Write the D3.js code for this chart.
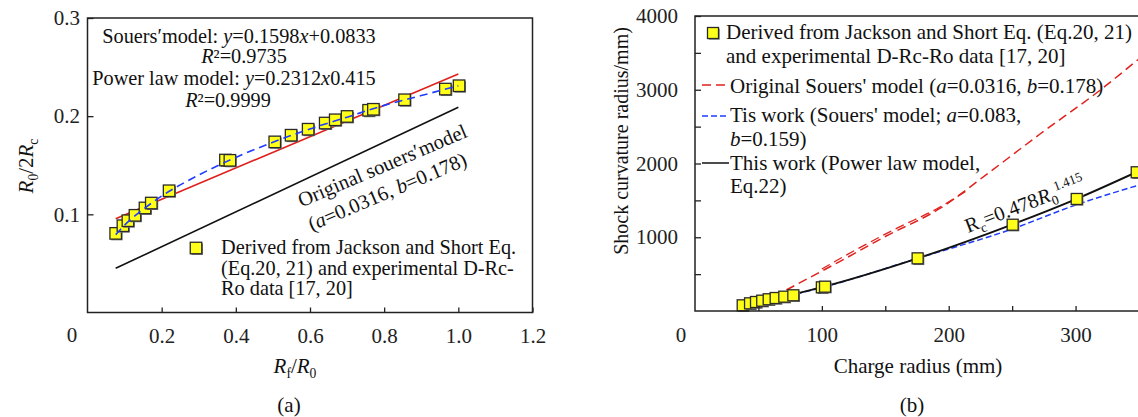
<!DOCTYPE html>
<html>
<head>
<meta charset="utf-8">
<script src="https://cdn.jsdelivr.net/npm/d3@7"></script>
<style>
body { margin:0; background:#fff; }
svg { font-family:"Liberation Serif","Times New Roman",serif; }
</style>
</head>
<body>
<svg id="chart"></svg>
<script>
//////////////////////////////////////////////////////////////
// (a) data: Rf/R0 against R0/2Rc
var ratioPts = [0.076,0.0955,0.109,0.128,0.155,0.172,0.22,0.372,0.384,0.505,
                0.549,0.595,0.641,0.668,0.70,0.758,0.771,0.855,0.965,1.002];
var valuePts = [0.0806,0.0884,0.0935,0.099,0.1065,0.1115,0.124,0.1553,0.155,0.1738,
                0.1806,0.1867,0.193,0.1963,0.1997,0.206,0.207,0.2167,0.2276,0.231];

// power law fit (blue dashed)
var powerX = [0.076,0.1,0.15,0.2,0.3,0.4,0.5,0.6,0.7,0.8,0.9,1.0];
var powerY = [0.0793,0.089,0.105,0.1186,0.140,0.158,0.1734,0.187,0.199,0.211,0.221,0.231];

// Souers' linear fit (red) and original Souers' model (black)
var souersX = [0.076,1.0];
var souersY = [0.0955,0.243];
var originalX = [0.076,1.0];
var originalY = [0.045,0.209];

var ratioTicks = [0.2,0.4,0.6,0.8,1.0,1.2];
var valueTicks = [0.1,0.2,0.3];

//////////////////////////////////////////////////////////////
// (b) data: charge radius against shock curvature radius
var radiusPts = [37.6,43.4,48.1,53.0,58.1,63.6,70.4,77.5,100,102.5,175.5,250.4,300.9,348.2];
var curvPts   = [77,104,122,140,159,176,194,213,321,330,714,1170,1519,1881];

var origSouersX = [72,90,114,150,193,232,272,319,350];
var origSouersY = [285,450,670,1010,1390,1880,2400,2990,3420];
var origSouers2X = [100,130,160,190,215];
var origSouers2Y = [570,860,1130,1380,1640];

var thisSouersX = [38,50,75,100,175,250,300,350];
var thisSouersY = [78,118,212,318,712,1112,1437,1708];

var thisPowerX = [37.6,50,75,100,175.5,250.4,300.9,350];
var thisPowerY = [79,121,215,323,714,1176,1522,1900];

var radiusTicks = [50,100,150,200,250,300,350];
var curvTicks = [500,1000,1500,2000,2500,3000,3500,4000];

//////////////////////////////////////////////////////////////
var zip = function(xs, ys) {
    return xs.map(function(x, i) { return [x, ys[i]]; });
}

// text with italic / sub / sup pieces: parts = [[text, style], ...]
var richText = function(textSel, parts) {
    var shift = 0;
    parts.forEach(function(p) {
        var ts = textSel.append("tspan").text(p[0]);
        var st = p[1] || "";
        if (st.indexOf("i") >= 0) ts.attr("font-style", "italic");
        var want = st.indexOf("sub") >= 0 ? 5 : (st.indexOf("sup") >= 0 ? -8 : 0);
        if (want !== shift) { ts.attr("dy", want - shift); shift = want; }
        if (want !== 0) ts.attr("font-size", "0.65em");
    });
    return textSel;
}

var square = function(g, cx, cy, size) {
    g.append("rect")
        .attr("x", cx - size / 2 + 1.2)
        .attr("y", cy - size / 2 + 1.2)
        .attr("width", size).attr("height", size)
        .attr("fill", "#777");
    g.append("rect")
        .attr("x", cx - size / 2)
        .attr("y", cy - size / 2)
        .attr("width", size).attr("height", size)
        .attr("fill", "#ffff1a")
        .attr("stroke", "#2a2a2a")
        .attr("stroke-width", 1.3);
}

var svg = d3.select("#chart")
    .attr("width", 1138)
    .attr("height", 417);

svg.append("rect").attr("width", 1138).attr("height", 417).attr("fill", "#fff");

//////////////////////////////////////////////////////////////
// panel (a)
var drawLeft = function() {
    var xScale = d3.scaleLinear().domain([0, 1.2]).range([87.5, 532.5]);
    var yScale = d3.scaleLinear().domain([0, 0.3]).range([312.5, 18]);
    var g = svg.append("g");

    var line = d3.line()
        .x(function(d) { return xScale(d[0]); })
        .y(function(d) { return yScale(d[1]); });

    g.append("path")
        .attr("d", line(zip(originalX, originalY)))
        .attr("fill", "none").attr("stroke", "#111").attr("stroke-width", 1.6);
    g.append("path")
        .attr("d", line(zip(souersX, souersY)))
        .attr("fill", "none").attr("stroke", "#e0201c").attr("stroke-width", 1.6);

    zip(ratioPts, valuePts).forEach(function(d) {
        square(g, xScale(d[0]), yScale(d[1]), 11.5);
    });

    g.append("path")
        .attr("d", line.curve(d3.curveMonotoneX)(zip(powerX, powerY)))
        .attr("fill", "none").attr("stroke", "#1f3cff")
        .attr("stroke-width", 1.6).attr("stroke-dasharray", "8,5");

    // axes
    var xAxis = d3.axisBottom(xScale).tickValues(ratioTicks)
        .tickSize(-5).tickPadding(16).tickFormat(d3.format(".1f"));
    var yAxis = d3.axisLeft(yScale).tickValues(valueTicks)
        .tickSize(-6).tickPadding(7.5).tickFormat(d3.format(".1f"));

    var ax = g.append("g").attr("transform", "translate(0,312.5)").call(xAxis);
    var ay = g.append("g").attr("transform", "translate(87.5,0)").call(yAxis);
    [ax, ay].forEach(function(a) {
        a.select(".domain").remove();
        a.selectAll("line").attr("stroke", "#222").attr("stroke-width", 1.3);
        a.selectAll("text").attr("font-family", "Liberation Serif")
            .attr("font-size", 21).attr("fill", "#222");
    });

    g.append("rect")
        .attr("x", 87.5).attr("y", 18)
        .attr("width", 445).attr("height", 294.5)
        .attr("fill", "none").attr("stroke", "#222").attr("stroke-width", 1.5);

    g.append("text").attr("x", 72).attr("y", 342)
        .attr("text-anchor", "middle").attr("font-size", 21).attr("fill", "#222").text("0");

    // fit annotations
    var notes = [
        {x:239, y:43, parts:[["Souers′model: "],["y","i"],["=0.1598"],["x","i"],["+0.0833"]]},
        {x:244, y:63, parts:[["R","i"],["²=0.9735"]]},
        {x:234, y:85, parts:[["Power law model: "],["y","i"],["=0.2312"],["x","i"],["0.415"]]},
        {x:228, y:107, parts:[["R","i"],["²=0.9999"]]}
    ];
    notes.forEach(function(n) {
        richText(g.append("text").attr("x", n.x).attr("y", n.y)
            .attr("text-anchor", "middle").attr("font-size", 20.3).attr("fill", "#111"), n.parts);
    });

    richText(g.append("text")
        .attr("transform", "translate(385,172) rotate(-23)")
        .attr("text-anchor", "middle").attr("font-size", 20.5).attr("fill", "#111"),
        [["Original souers′model"]]);
    richText(g.append("text")
        .attr("transform", "translate(390,198) rotate(-23)")
        .attr("text-anchor", "middle").attr("font-size", 20.5).attr("fill", "#111"),
        [["("],["a","i"],["=0.0316, "],["b","i"],["=0.178)"]]);

    // legend
    square(g, 196, 248, 11.5);
    var legendLines = ["Derived from Jackson and Short Eq.",
                       "(Eq.20, 21) and experimental D-Rc-",
                       "Ro data [17, 20]"];
    legendLines.forEach(function(t, i) {
        g.append("text").attr("x", 221).attr("y", 254 + i * 20.5)
            .attr("font-size", 20.3).attr("fill", "#111").text(t);
    });

    // axis titles
    richText(g.append("text").attr("x", 295).attr("y", 373)
        .attr("text-anchor", "middle").attr("font-size", 21).attr("fill", "#111"),
        [["R","i"],["f","sub"],["/"],["R","i"],["0","sub"]]);
    richText(g.append("text")
        .attr("transform", "translate(33,166) rotate(-90)")
        .attr("text-anchor", "middle").attr("font-size", 21).attr("fill", "#111"),
        [["R","i"],["0","sub"],["/2"],["R","i"],["c","sub"]]);
    g.append("text").attr("x", 289).attr("y", 412)
        .attr("text-anchor", "middle").attr("font-size", 21).attr("fill", "#111").text("(a)");
}

//////////////////////////////////////////////////////////////
// panel (b)
var drawRight = function() {
    var xScale = d3.scaleLinear().domain([0, 350]).range([695, 1139]);
    var yScale = d3.scaleLinear().domain([0, 4000]).range([311, 16]);
    var g = svg.append("g");

    var line = d3.line()
        .x(function(d) { return xScale(d[0]); })
        .y(function(d) { return yScale(d[1]); })
        .curve(d3.curveMonotoneX);

    g.append("path")
        .attr("d", line(zip(origSouersX, origSouersY)))
        .attr("fill", "none").attr("stroke", "#e0201c")
        .attr("stroke-width", 1.5).attr("stroke-dasharray", "9,5");
    g.append("path")
        .attr("d", line(zip(origSouers2X, origSouers2Y)))
        .attr("fill", "none").attr("stroke", "#e0201c")
        .attr("stroke-width", 1.3).attr("stroke-dasharray", "9,5");
    g.append("path")
        .attr("d", line(zip(thisSouersX, thisSouersY)))
        .attr("fill", "none").attr("stroke", "#1f3cff")
        .attr("stroke-width", 1.5).attr("stroke-dasharray", "6,3");
    g.append("path")
        .attr("d", line(zip(thisPowerX, thisPowerY)))
        .attr("fill", "none").attr("stroke", "#111").attr("stroke-width", 1.9);

    zip(radiusPts, curvPts).forEach(function(d) {
        square(g, xScale(d[0]), yScale(d[1]), 11);
    });

    var xAxis = d3.axisBottom(xScale).tickValues(radiusTicks).tickSize(-5).tickPadding(16)
        .tickFormat(function(d) { return d % 100 === 0 ? d : ""; });
    var yAxis = d3.axisLeft(yScale).tickValues(curvTicks).tickSize(-6).tickPadding(17)
        .tickFormat(function(d) { return d % 1000 === 0 ? d : ""; });

    var ax = g.append("g").attr("transform", "translate(0,311)").call(xAxis);
    var ay = g.append("g").attr("transform", "translate(695,0)").call(yAxis);
    [ax, ay].forEach(function(a) {
        a.select(".domain").remove();
        a.selectAll("line").attr("stroke", "#222").attr("stroke-width", 1.3);
        a.selectAll("text").attr("font-family", "Liberation Serif")
            .attr("font-size", 21).attr("fill", "#222");
    });

    g.append("rect")
        .attr("x", 695).attr("y", 16)
        .attr("width", 444).attr("height", 295)
        .attr("fill", "none").attr("stroke", "#222").attr("stroke-width", 1.5);

    g.append("text").attr("x", 681).attr("y", 342)
        .attr("text-anchor", "middle").attr("font-size", 21).attr("fill", "#222").text("0");

    // power law label
    richText(g.append("text")
        .attr("transform", "translate(968,233) rotate(-21)")
        .attr("font-size", 20.5).attr("fill", "#111"),
        [["R"],["c","sub"],["=0.478"],["R","i"],["0","sub"],["1.415","sup"]]);

    // legend
    var fs = 21;
    square(g, 713, 33, 11);
    g.append("text").attr("x", 726).attr("y", 39).attr("font-size", fs).attr("fill", "#111")
        .text("Derived from Jackson and Short Eq. (Eq.20, 21)");
    g.append("text").attr("x", 726).attr("y", 63).attr("font-size", fs).attr("fill", "#111")
        .text("and experimental D-Rc-Ro data [17, 20]");

    var legendKeys = [
        {y:85, color:"#e0201c", dash:"9,5", ty:93,
         parts:[["Original Souers' model ("],["a","i"],["=0.0316, "],["b","i"],["=0.178)"]]},
        {y:116, color:"#1f3cff", dash:"6,3", ty:122,
         parts:[["Tis work (Souers' model; "],["a","i"],["=0.083,"]]},
        {y:163, color:"#111", dash:null, ty:170,
         parts:[["This work (Power law model,"]]}
    ];
    legendKeys.forEach(function(k) {
        g.append("line").attr("x1", 702).attr("x2", 729).attr("y1", k.y).attr("y2", k.y)
            .attr("stroke", k.color).attr("stroke-width", 1.5)
            .attr("stroke-dasharray", k.dash);
        richText(g.append("text").attr("x", 730).attr("y", k.ty)
            .attr("font-size", fs).attr("fill", "#111"), k.parts);
    });
    richText(g.append("text").attr("x", 730).attr("y", 146)
        .attr("font-size", fs).attr("fill", "#111"), [["b","i"],["=0.159)"]]);
    g.append("text").attr("x", 730).attr("y", 193)
        .attr("font-size", fs).attr("fill", "#111").text("Eq.22)");

    // titles
    g.append("text").attr("x", 918).attr("y", 373)
        .attr("text-anchor", "middle").attr("font-size", 21).attr("fill", "#111")
        .text("Charge radius (mm)");
    g.append("text")
        .attr("transform", "translate(628,141) rotate(-90)")
        .attr("text-anchor", "middle").attr("font-size", 20).attr("fill", "#111")
        .text("Shock curvature radius/mm)");
    g.append("text").attr("x", 912).attr("y", 412)
        .attr("text-anchor", "middle").attr("font-size", 21).attr("fill", "#111").text("(b)");
}

drawLeft();
drawRight();
</script>
</body>
</html>
